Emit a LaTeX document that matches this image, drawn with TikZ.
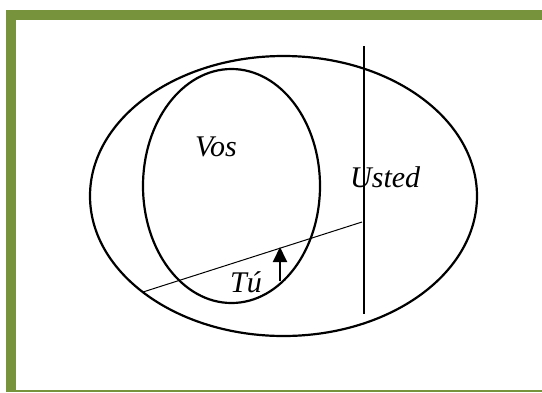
\documentclass[tikz,border=0pt]{standalone}
\usepackage{fontspec}
\setmainfont{Liberation Serif}
\usetikzlibrary{shapes.geometric,arrows.meta}
\definecolor{frameGreen}{RGB}{119,147,60}
\tikzset{
  band/.style={fill=frameGreen, draw=none},
  setoval/.style={ellipse, draw=black, line width=2.2pt, inner sep=0pt},
  thinline/.style={draw=black, line width=1pt},
  label/.style={font=\fontsize{30}{33}\selectfont\itshape, inner sep=0pt, anchor=base west},
  upArrow/.style={draw=black, line width=2pt, -{Triangle[length=15pt,width=14pt]}}
}
\begin{document}
\begin{tikzpicture}[x=1pt,y=-1pt]
\useasboundingbox (0,0) rectangle (542,392);
% frame
\fill[band] (6,10) rectangle (542,20);
\fill[band] (6,10) rectangle (16,392);
\fill[band] (16,389.5) rectangle (542,392);
% sets
\node[setoval, minimum width=387pt, minimum height=280pt] (outer) at (283.5,196) {};
\node[setoval, minimum width=177pt, minimum height=234pt] (inner) at (231.5,186) {};
% lines
\coordinate (lA) at (143,292);
\coordinate (lB) at (362,222);
\draw[thinline] (lA) -- (lB);
\coordinate (vA) at (364,46);
\coordinate (vB) at (364,314);
\draw[thinline, line width=1.3pt] (vA) -- (vB);
% arrow
\coordinate (aA) at (280,281);
\coordinate (aB) at (280,247);
\draw[upArrow] (aA) -- (aB);
% labels
\node[label] (vos) at (195,156) {Vos};
\node[label] (usted) at (350,187) {Usted};
\node[label] (tu) at (230,292) {Tú};
\end{tikzpicture}
\end{document}
